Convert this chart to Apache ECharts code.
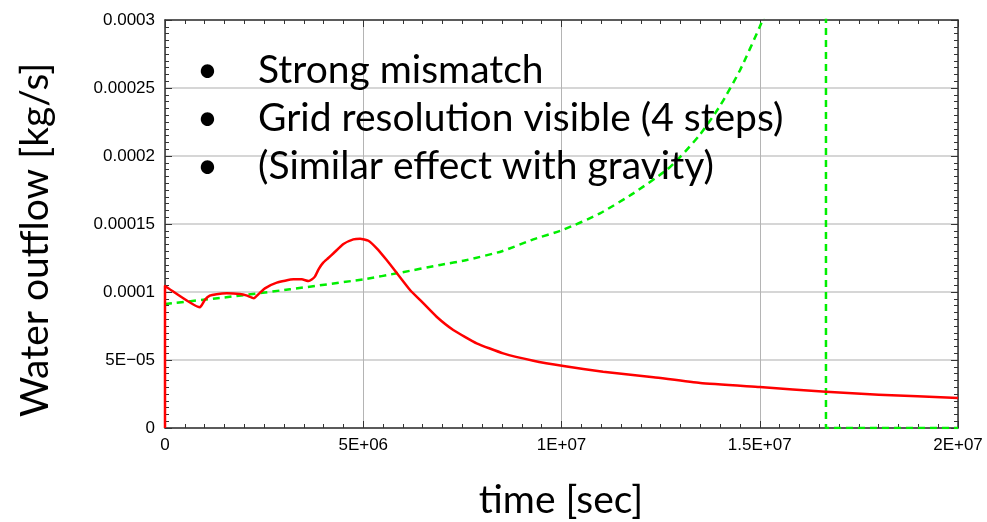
<!DOCTYPE html>
<html>
<head>
<meta charset="utf-8">
<script src="https://cdn.jsdelivr.net/npm/echarts@6/dist/echarts.min.js"></script>
<style>
  html, body { margin: 0; padding: 0; background: #fff; }
  #main { width: 987px; height: 522px; }
</style>
</head>
<body>
<div id="main"></div>
<script>
// red: simulated outflow (time [s], kg/s)
const redTime = [0, 0, 2.5e4, 8.8e5, 1.0e6, 1.13e6, 1.3e6, 1.56e6, 1.89e6, 2.05e6, 2.24e6, 2.38e6, 2.52e6, 2.82e6, 3.24e6, 3.45e6, 3.62e6,
  3.7e6, 3.78e6, 3.88e6, 3.99e6, 4.12e6, 4.25e6, 4.5e6, 4.75e6, 4.92e6, 5.13e6, 5.34e6, 5.59e6, 5.84e6, 6.18e6, 6.43e6, 6.85e6,
  7.27e6, 7.86e6, 8.53e6, 9.29e6, 1.005e7, 1.105e7, 1.232e7, 1.35e7, 1.5e7, 1.667e7, 1.8e7, 2e7];
const redFlow = [0, 1.044e-4, 1.039e-4, 0.887e-4, 0.94e-4, 0.973e-4, 0.984e-4, 0.99e-4, 0.985e-4, 0.975e-4, 0.954e-4, 0.99e-4, 1.027e-4, 1.069e-4, 1.093e-4, 1.093e-4, 1.081e-4,
  1.092e-4, 1.113e-4, 1.17e-4, 1.216e-4, 1.25e-4, 1.285e-4, 1.353e-4, 1.387e-4, 1.392e-4, 1.377e-4, 1.321e-4, 1.235e-4, 1.142e-4, 1.015e-4, 0.942e-4, 0.818e-4,
  0.721e-4, 0.623e-4, 0.549e-4, 0.495e-4, 0.456e-4, 0.414e-4, 0.373e-4, 0.331e-4, 0.301e-4, 0.267e-4, 0.245e-4, 0.221e-4];

// green: analytical solution, blows up and then drops to zero
const greenTime = [0, 1.5e6, 3.15e6, 5e6, 5.93e6, 6.94e6, 7.61e6, 8.5e6, 9.29e6, 1.003e7, 1.097e7, 1.181e7, 1.265e7,
  1.3e7, 1.35e7, 1.4e7, 1.45e7, 1.5e7, 1.55e7];
const greenFlow = [0.912e-4, 0.96e-4, 1.02e-4, 1.093e-4, 1.142e-4, 1.199e-4, 1.235e-4, 1.3e-4, 1.387e-4, 1.456e-4, 1.578e-4, 1.725e-4, 1.897e-4,
  1.995e-4, 2.16e-4, 2.37e-4, 2.63e-4, 2.95e-4, 3.3e-4];
const greenDropTime = [1.667e7, 1.667e7, 2e7];
const greenDropFlow = [1e-3, 0, 0];

const xTickLabels = ['0', '5E+06', '1E+07', '1.5E+07', '2E+07'];
const yTickLabels = ['0', '5E\u221205', '0.0001', '0.00015', '0.0002', '0.00025', '0.0003'];

const bullets = ['Strong mismatch', 'Grid resolution visible (4 steps)', '(Similar effect with gravity)'];

const X_MAX = 2e7, X_STEP = 5e6;
const Y_MAX = 3e-4, Y_STEP = 5e-5;

const zip = (a, b) => a.map((v, i) => [v, b[i]]);

const chart = echarts.init(document.getElementById('main'));

const baseAxis = {
  type: 'value',
  axisLine: { show: true, onZero: false, lineStyle: { color: '#333', width: 1.5 } },
  axisTick: { show: true, inside: true, length: 7, lineStyle: { color: '#333' } },
  minorTick: { show: true, splitNumber: 10, length: 4, lineStyle: { color: '#333' } }
};

const textG = (txt, x, y, size) => ({
  type: 'text', x: x, y: y, z: 100,
  style: { text: txt, font: size + 'px Lato', fill: '#000', textAlign: 'left', textVerticalAlign: 'middle' }
});

const graphics = [];
bullets.forEach((b, i) => {
  graphics.push(textG('\u2022', 197, 70 + i * 48, 36));
  graphics.push(textG(b, 258, 70 + i * 48, 39));
});
graphics.push({
  type: 'text', x: 35, y: 240, rotation: Math.PI / 2,
  style: { text: 'Water outflow [kg/s]', font: '39px Lato', fill: '#000', textAlign: 'center', textVerticalAlign: 'middle' }
});
graphics.push({
  type: 'text', x: 561, y: 500,
  style: { text: 'time [sec]', font: '39px Lato', fill: '#000', textAlign: 'center', textVerticalAlign: 'middle' }
});

const greenStyle = { color: '#00ee00', width: 2.5, type: [7, 5] };

chart.setOption({
  animation: false,
  backgroundColor: '#fff',
  grid: { left: 165, right: 29, top: 20, bottom: 94 },
  xAxis: [
    Object.assign({}, baseAxis, {
      min: 0, max: X_MAX, interval: X_STEP, position: 'bottom',
      axisLabel: {
        color: '#000', fontFamily: 'Liberation Sans', fontSize: 17, margin: 9,
        formatter: v => xTickLabels[Math.round(v / X_STEP)]
      },
      splitLine: { show: true, lineStyle: { color: '#b4b4b4', width: 1 } }
    }),
    Object.assign({}, baseAxis, {
      min: 0, max: X_MAX, interval: X_STEP, position: 'top',
      axisLabel: { show: false }, splitLine: { show: false }
    })
  ],
  yAxis: [
    Object.assign({}, baseAxis, {
      min: 0, max: Y_MAX, interval: Y_STEP, position: 'left',
      axisLabel: {
        color: '#000', fontFamily: 'Liberation Sans', fontSize: 17, margin: 10,
        formatter: v => yTickLabels[Math.round(v / Y_STEP)]
      },
      splitLine: { show: true, lineStyle: { color: '#d6d6d6', width: 2 } }
    }),
    Object.assign({}, baseAxis, {
      min: 0, max: Y_MAX, interval: Y_STEP, position: 'right',
      axisLabel: { show: false }, splitLine: { show: false }
    })
  ],
  series: [
    {
      type: 'line', data: zip(greenTime, greenFlow), showSymbol: false, clip: true, smooth: 0.2,
      lineStyle: greenStyle, z: 3
    },
    {
      type: 'line', data: zip(greenDropTime, greenDropFlow), showSymbol: false, clip: true,
      lineStyle: greenStyle, z: 3
    },
    {
      type: 'line', data: zip(redTime, redFlow), showSymbol: false, clip: true, smooth: 0.15,
      lineStyle: { color: '#ff0000', width: 2.5, join: 'round' }, z: 4
    }
  ],
  graphic: graphics
});
</script>
</body>
</html>
